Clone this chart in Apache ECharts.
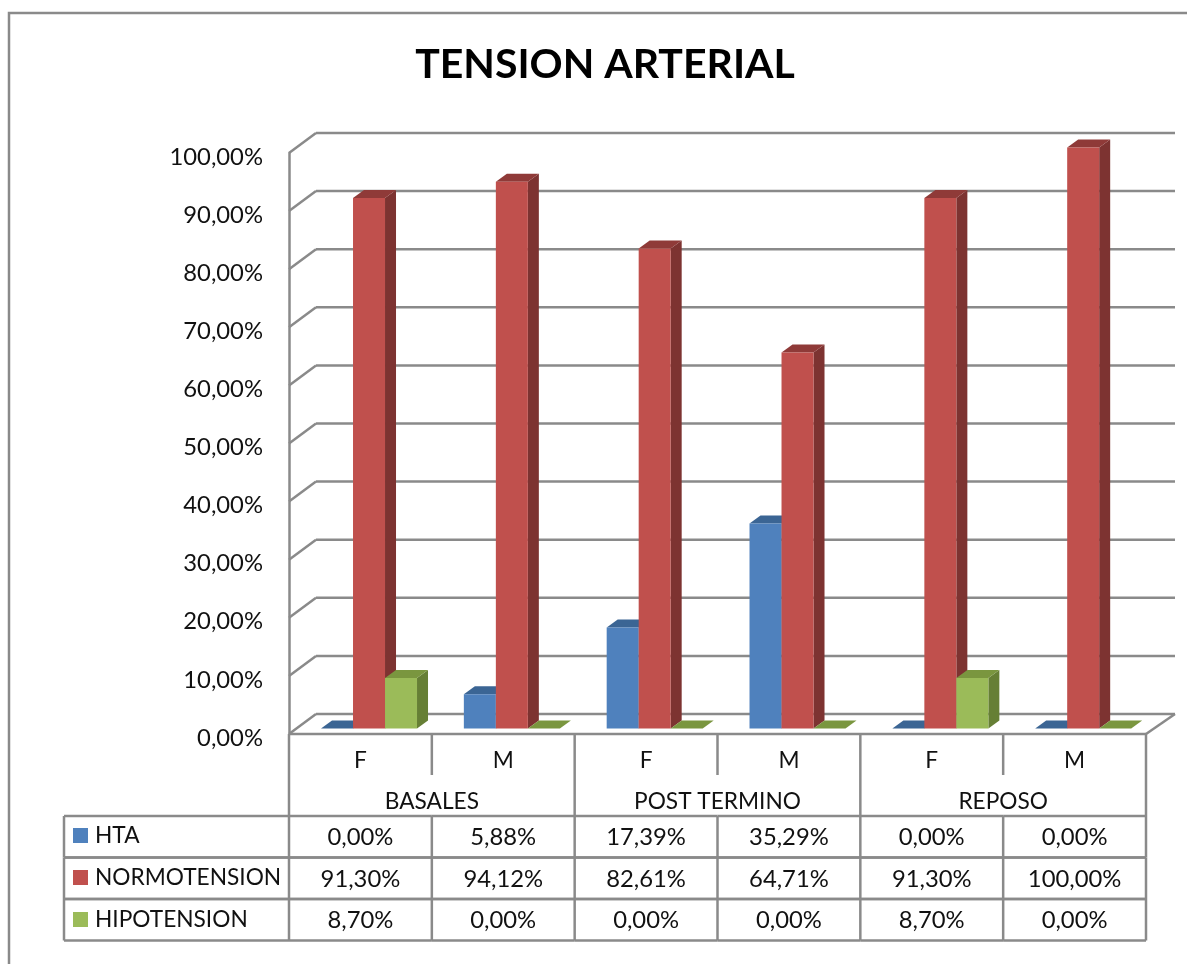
<!DOCTYPE html>
<html>
<head>
<meta charset="utf-8">
<title>Tension arterial</title>
<script src="https://cdn.jsdelivr.net/npm/echarts@6/dist/echarts.min.js"></script>
<style>
html,body{margin:0;padding:0;background:#fff;overflow:hidden}
#chart{width:1187px;height:964px}
</style>
</head>
<body>
<div id="chart"></div>
<script>
const sexes = ['F', 'M', 'F', 'M', 'F', 'M'];
const moments = ['BASALES', 'POST TERMINO', 'REPOSO'];
const seriesNames = ['HTA', 'NORMOTENSION', 'HIPOTENSION'];
const hta = [0, 5.88, 17.39, 35.29, 0, 0];
const normotension = [91.30, 94.12, 82.61, 64.71, 91.30, 100];
const hipotension = [8.70, 0, 0, 0, 8.70, 0];
const yTicks = [0, 10, 20, 30, 40, 50, 60, 70, 80, 90, 100];

const rows = [hta, normotension, hipotension];
const palette = [
  { front: '#4F81BD', top: '#3B6594', side: '#335A85' },
  { front: '#C0504D', top: '#8F3A38', side: '#7D3331' },
  { front: '#9BBB59', top: '#7A963F', side: '#667F35' }
];
const gridLine = '#8A8A8A';
const FONT = 'Lato';
const TEXT = '#111';
const NUM_SIZE = 23.8, WORD_SIZE = 22.7;
const WALL_DX = 27, WALL_DY = -20;       // depth of the back wall
const BAR_W = 32, BAR_DX = 11, BAR_DY = -8; // bar width and 3D extrusion
const BAR_SHIFT_X = 8.6, BAR_SHIFT_Y = -5.5;  // bars sit part way into the floor
const ROW_H = 41.5, TABLE_TOP = 82;

const pct = v => v.toFixed(2).replace('.', ',') + '%';
const line = (x1, y1, x2, y2) => ({
  type: 'line',
  shape: { x1, y1, x2, y2 },
  style: { stroke: gridLine, lineWidth: 2.5 }
});

// Back wall, side wall and floor lines for each value tick
function renderWall(params, api) {
  const cs = params.coordSys;
  const y = api.coord([0, api.value(0)])[1];
  const l = cs.x, r = cs.x + cs.width;
  const children = [
    line(l, y, l + WALL_DX, y + WALL_DY),
    line(l + WALL_DX, y + WALL_DY, r + WALL_DX + 2, y + WALL_DY)
  ];
  if (api.value(0) === 0) {
    children.push(line(r + WALL_DX + 2, y + WALL_DY, r, y));
    children.push(line(l, y, r, y));
  }
  return { type: 'group', children };
}

// Extruded bar: side face, top face, then front face
function barRenderer(index) {
  const c = palette[index];
  return function (params, api) {
    const cat = api.value(0), val = api.value(1);
    const base = api.coord([cat, 0]);
    const top = api.coord([cat, val]);
    const x0 = base[0] + BAR_SHIFT_X + (index - 1.5) * BAR_W;
    const x1 = x0 + BAR_W;
    const yb = base[1] + BAR_SHIFT_Y;
    const yt = top[1] + BAR_SHIFT_Y;
    return {
      type: 'group',
      children: [
        { type: 'polygon', shape: { points: [[x1, yb], [x1 + BAR_DX, yb + BAR_DY], [x1 + BAR_DX, yt + BAR_DY], [x1, yt]] }, style: { fill: c.side } },
        { type: 'polygon', shape: { points: [[x0, yt], [x0 + BAR_DX, yt + BAR_DY], [x1 + BAR_DX, yt + BAR_DY], [x1, yt]] }, style: { fill: c.top } },
        { type: 'rect', shape: { x: x0, y: yt, width: BAR_W, height: yb - yt }, style: { fill: c.front } }
      ]
    };
  };
}

// Data table below the axis: one item per value cell
function renderTable(params, api) {
  const cs = params.coordSys;
  const cat = api.value(0), row = api.value(1), val = api.value(2);
  const band = cs.width / sexes.length;
  const bottom = cs.y + cs.height;
  const x0 = cs.x + cat * band;
  const top = bottom + TABLE_TOP + row * ROW_H;
  const children = [
    line(x0, top, x0 + band, top),
    line(x0, top + ROW_H, x0 + band, top + ROW_H),
    line(x0 + band, top, x0 + band, top + ROW_H),
    {
      type: 'text',
      style: {
        text: pct(val), x: x0 + band / 2, y: top + ROW_H / 2 + 1,
        align: 'center', verticalAlign: 'middle',
        font: NUM_SIZE + 'px ' + FONT, fill: TEXT
      }
    }
  ];
  if (cat === 0) {
    children.push(line(x0, top, x0, top + ROW_H));
    children.push(line(64, top, x0, top));
    children.push(line(64, top + ROW_H, x0, top + ROW_H));
    children.push(line(64, top, 64, top + ROW_H));
  }
  return { type: 'group', children };
}

// Separators between the sex and moment header rows
function renderHeaderLines(params, api) {
  const cs = params.coordSys;
  const i = api.value(0);
  const band = cs.width / sexes.length;
  const bottom = cs.y + cs.height;
  const x = cs.x + i * band;
  return line(x, bottom, x, bottom + (i % 2 === 0 ? TABLE_TOP : TABLE_TOP / 2));
}

const tableCells = [];
rows.forEach((r, ri) => r.forEach((v, ci) => tableCells.push([ci, ri, v])));

const barSeries = rows.map((r, i) => ({
  name: seriesNames[i],
  type: 'custom',
  coordinateSystem: 'cartesian2d',
  xAxisIndex: 0,
  z: 5 + i,
  clip: false,
  itemStyle: { color: palette[i].front },
  renderItem: barRenderer(i),
  encode: { x: 0, y: 1 },
  data: r.map((v, ci) => [ci, v])
}));

const option = {
  backgroundColor: '#fff',
  animation: false,
  textStyle: { fontFamily: FONT },
  title: {
    text: 'TENSION ARTERIAL',
    left: 600, top: 39, textAlign: 'center',
    textStyle: { fontFamily: FONT, fontSize: 41, fontWeight: 'bold', color: '#000' }
  },
  legend: {
    orient: 'vertical', left: 73, top: 824,
    itemWidth: 15, itemHeight: 15, itemGap: 19,
    padding: 0,
    icon: 'rect',
    selectedMode: false,
    textStyle: { fontFamily: FONT, fontSize: WORD_SIZE, color: TEXT, padding: [0, 0, 0, 2], lineHeight: 15 },
    data: seriesNames
  },
  grid: { left: 289, right: 41, top: 153, bottom: 230 },
  xAxis: [
    {
      type: 'category', data: sexes, position: 'bottom',
      axisLine: { show: false }, axisTick: { show: false },
      axisLabel: { fontFamily: FONT, fontSize: WORD_SIZE, color: TEXT, margin: 15, interval: 0 },
      splitLine: { show: false }
    },
    {
      type: 'category', data: moments, position: 'bottom', offset: 41,
      axisLine: { show: false }, axisTick: { show: false },
      axisLabel: { fontFamily: FONT, fontSize: WORD_SIZE, color: TEXT, margin: 15, interval: 0 },
      splitLine: { show: false }
    }
  ],
  yAxis: {
    type: 'value', min: 0, max: 100, interval: 10,
    axisLine: { show: true, lineStyle: { color: gridLine, width: 2.5 } },
    axisTick: { show: false },
    splitLine: { show: false },
    axisLabel: {
      fontFamily: FONT, fontSize: NUM_SIZE, color: TEXT, margin: 26,
      verticalAlign: 'top', lineHeight: 8,
      formatter: v => pct(v)
    }
  },
  graphic: [{
    type: 'polyline',
    shape: { points: [[9, 964], [9, 13], [1187, 13]] },
    style: { stroke: gridLine, lineWidth: 2.5, fill: 'none' },
    silent: true
  }],
  series: [
    {
      type: 'custom', name: 'wall', coordinateSystem: 'cartesian2d', z: 1, clip: false,
      renderItem: renderWall, encode: { y: 0 }, silent: true,
      data: yTicks.map(v => [v])
    },
    ...barSeries,
    {
      type: 'custom', name: 'table', coordinateSystem: 'cartesian2d', z: 2, clip: false,
      renderItem: renderTable, silent: true, encode: { x: -1, y: -1 },
      data: tableCells
    },
    {
      type: 'custom', name: 'headers', coordinateSystem: 'cartesian2d', z: 2, clip: false,
      renderItem: renderHeaderLines, silent: true, encode: { x: -1, y: -1 },
      data: [0, 1, 2, 3, 4, 5, 6].map(i => [i])
    }
  ]
};

const chart = echarts.init(document.getElementById('chart'), null, { renderer: 'canvas' });
chart.setOption(option);
</script>
</body>
</html>
